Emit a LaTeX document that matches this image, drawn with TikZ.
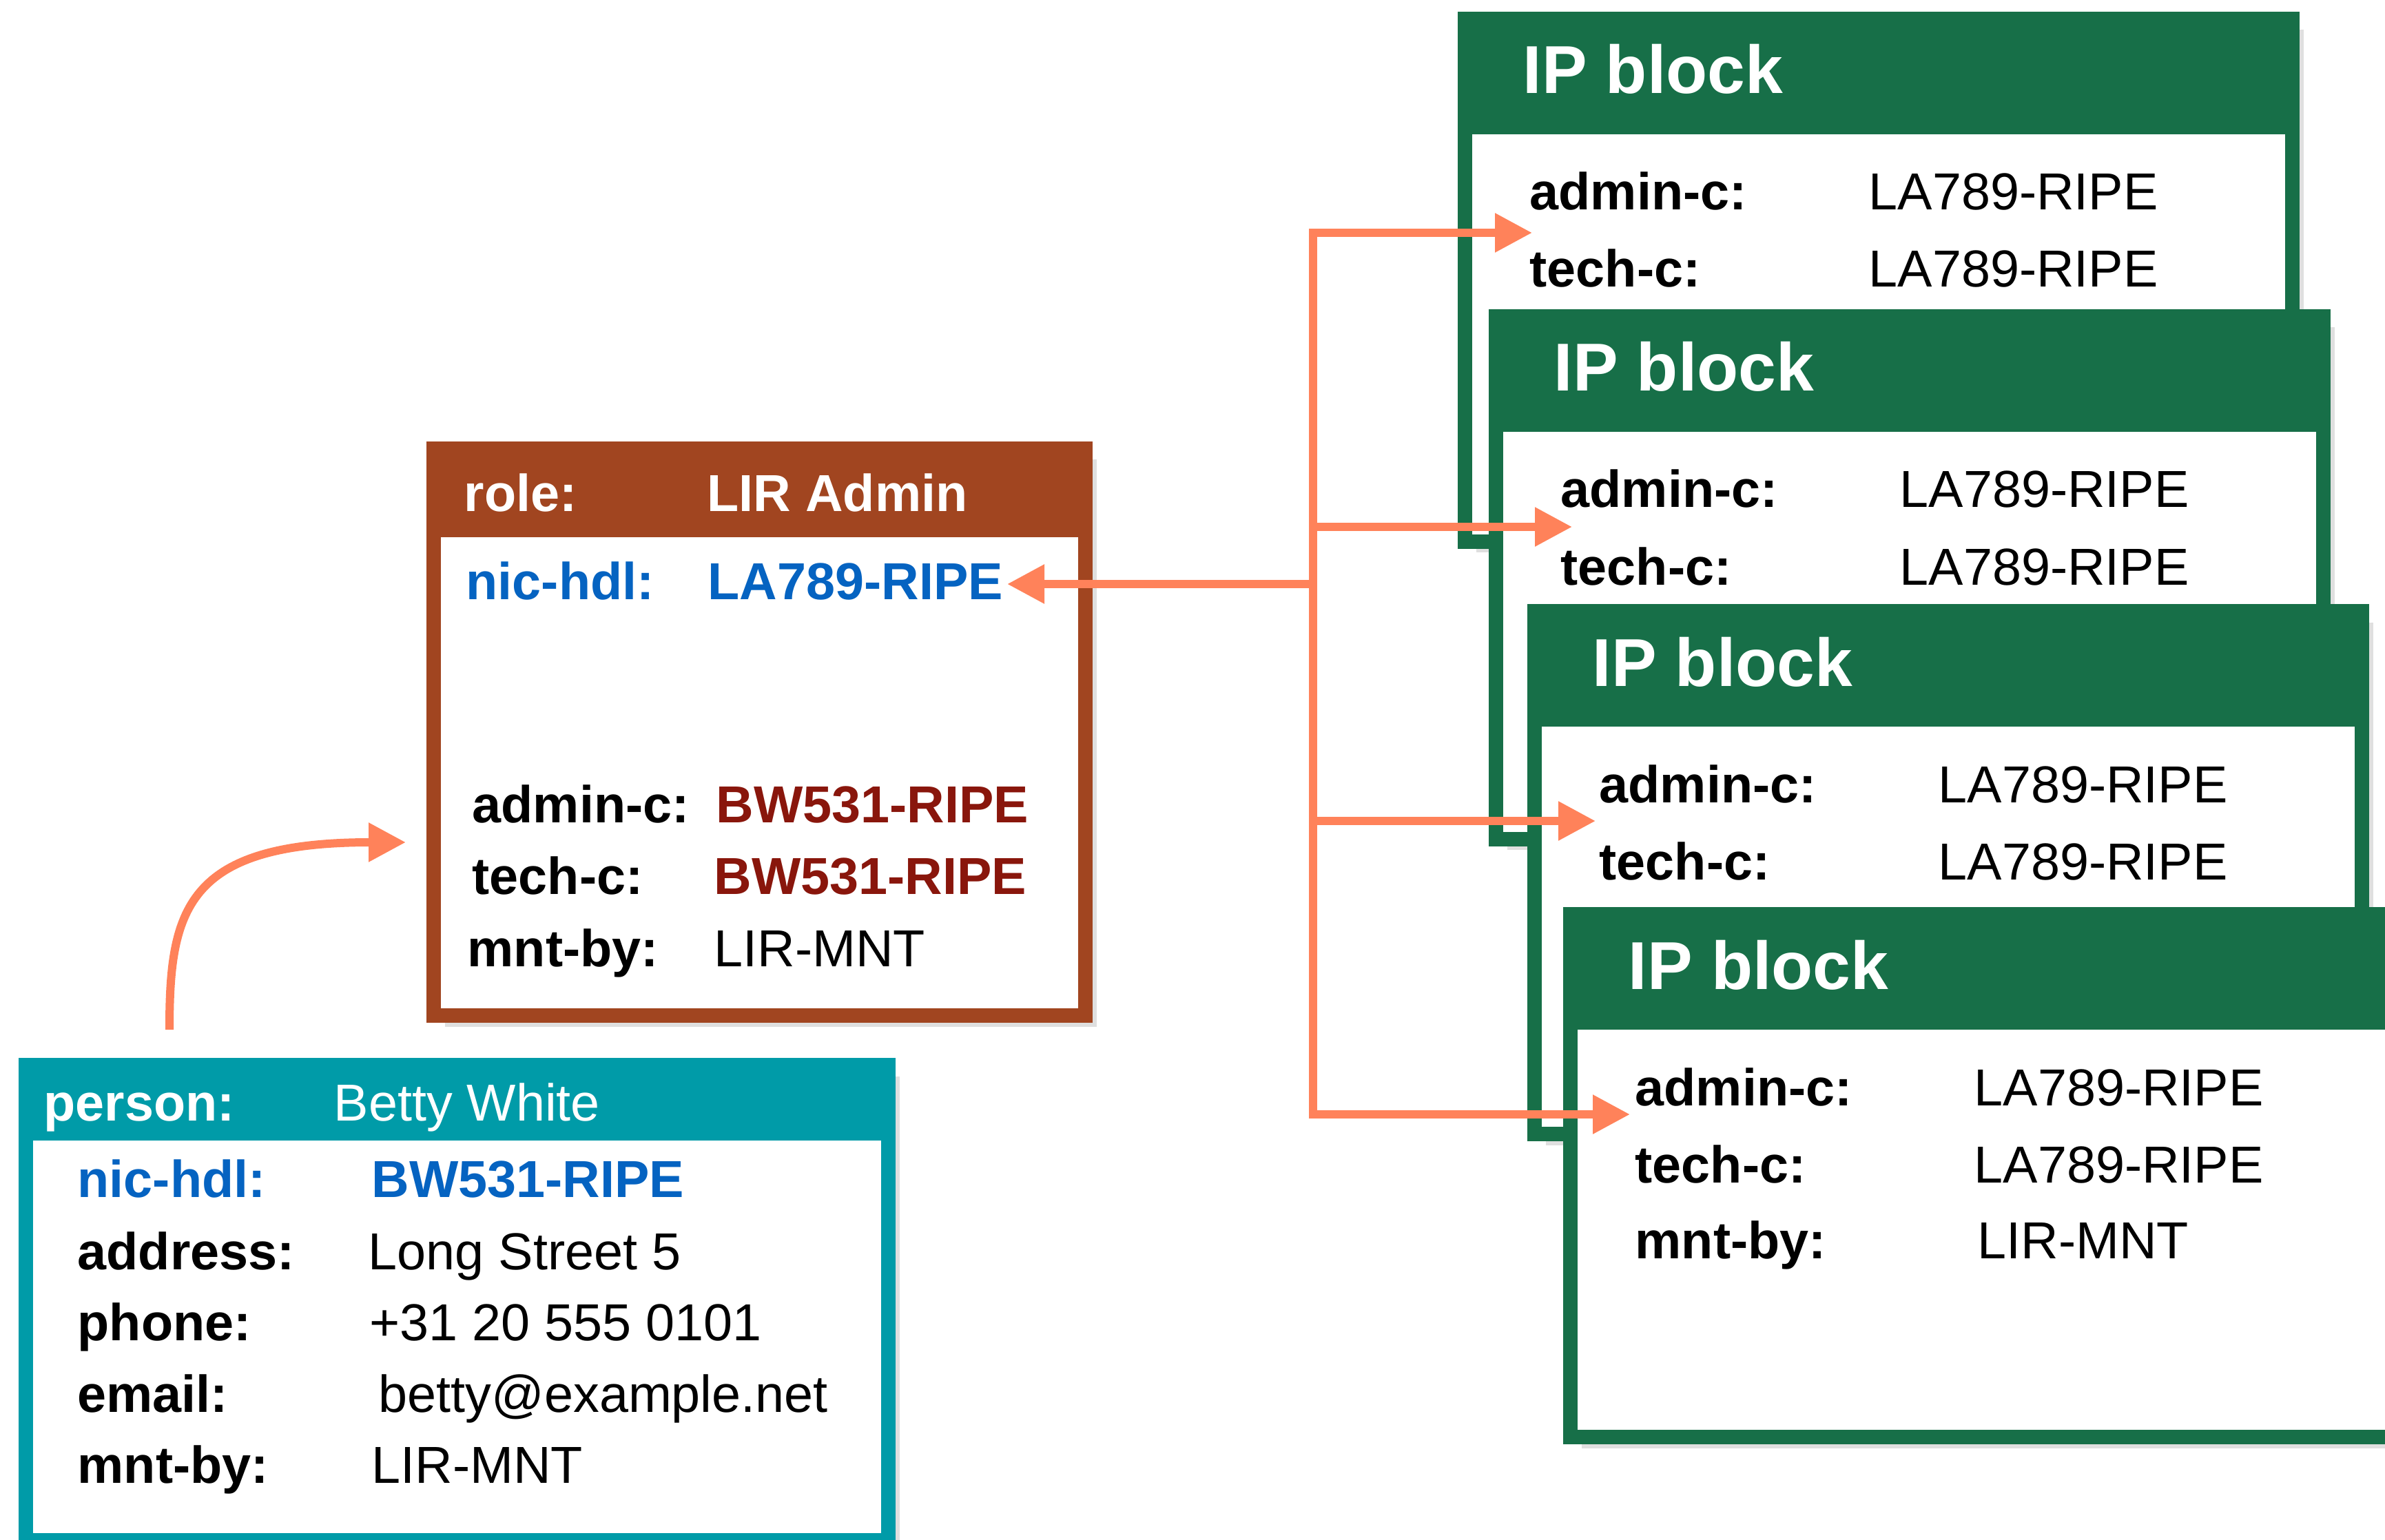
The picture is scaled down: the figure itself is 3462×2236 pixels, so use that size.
\documentclass[tikz,border=0pt]{standalone}
\usepackage{fontspec}
\setmainfont{Liberation Sans}
\usetikzlibrary{arrows.meta,shadows}

\definecolor{rolebrown}{RGB}{161,69,32}
\definecolor{personteal}{RGB}{0,155,168}
\definecolor{ipgreen}{RGB}{23,111,72}
\definecolor{linkorange}{RGB}{255,130,90}
\definecolor{hdlblue}{RGB}{5,99,193}
\definecolor{refred}{RGB}{137,22,12}

\tikzset{
  card/.style n args={4}{rectangle, anchor=north west, inner sep=0, outer sep=1.05mm,
    draw=#1, fill=white, line width=2.1mm, minimum width=#2, minimum height=#3,
    drop shadow={shadow xshift=1.6mm, shadow yshift=-1.6mm, opacity=.25},
    path picture={\fill[#1] (path picture bounding box.north west)
      rectangle ([yshift=-#4]path picture bounding box.north east);}},
  lab/.style={anchor=base west, inner sep=0, font=\fontsize{21.5}{26}\selectfont\bfseries},
  val/.style={anchor=base west, inner sep=0, font=\fontsize{21.5}{26}\selectfont},
  blocktitle/.style={anchor=base west, inner sep=0, text=white, font=\fontsize{28}{34}\selectfont\bfseries},
  link/.style={draw=linkorange, line width=1.2mm},
  refarrow/.style={link, -{Triangle[length=5.4mm,width=5.4mm]}},
}

\begin{document}
\begin{tikzpicture}[x=0.1mm,y=-0.1mm]
\useasboundingbox (0,0) rectangle (3462,2236);

% ip blocks, stacked
\foreach \i/\x/\y in {1/2116/17, 2/2161/449, 3/2217/877, 4/2269/1317} {
  \node[card={ipgreen}{120.1mm}{75.9mm}{16.75mm}] (ip\i) at (\x,\y) {};
  \node[blocktitle] (ip\i-title) at (\x+94,\y+119) {IP block};
  \node[lab] (ip\i-adm) at (\x+104,\y+288) {admin-c:};
  \node[val] (ip\i-admv) at (\x+596,\y+288) {LA789-RIPE};
  \node[lab] (ip\i-tech) at (\x+104,\y+400) {tech-c:};
  \node[val] (ip\i-techv) at (\x+596,\y+400) {LA789-RIPE};
}
\node[lab] (ip4-mnt) at (2373,1827) {mnt-by:};
\node[val] (ip4-mntv) at (2870,1827) {LIR-MNT};

% role object
\node[card={rolebrown}{94.6mm}{82.3mm}{12.85mm}] (role) at (619,641) {};
\node[lab,text=white] (rrole) at (673,742) {role:};
\node[lab,text=white] (rrolev) at (1026,742) {LIR Admin};
\node[lab,text=hdlblue] (rnic) at (676,871) {nic-hdl:};
\node[lab,text=hdlblue] (rnicv) at (1027,871) {LA789-RIPE};
\node[lab] (radm) at (685,1194) {admin-c:};
\node[lab,text=refred] (radmv) at (1039,1194) {BW531-RIPE};
\node[lab] (rtech) at (685,1298) {tech-c:};
\node[lab,text=refred] (rtechv) at (1036,1298) {BW531-RIPE};
\node[lab] (rmnt) at (678,1403) {mnt-by:};
\node[val] (rmntv) at (1036,1403) {LIR-MNT};

% person object
\node[card={personteal}{125.2mm}{69mm}{10.95mm}] (person) at (27,1536) {};
\node[lab,text=white] (pname) at (63,1627) {person:};
\node[val,text=white] (pnamev) at (484,1627) {Betty White};
\node[lab,text=hdlblue] (pnic) at (112,1738) {nic-hdl:};
\node[lab,text=hdlblue] (pnicv) at (539,1738) {BW531-RIPE};
\node[lab] (padr) at (112,1843) {address:};
\node[val] (padrv) at (534,1843) {Long Street 5};
\node[lab] (pph) at (112,1946) {phone:};
\node[val] (pphv) at (536,1946) {+31 20 555 0101};
\node[lab] (pmail) at (112,2050) {email:};
\node[val] (pmailv) at (549,2050) {betty@example.net};
\node[lab] (pmnt) at (112,2153) {mnt-by:};
\node[val] (pmntv) at (539,2153) {LIR-MNT};

% references
\coordinate (hubtop) at (1906,338);
\coordinate (hubmid) at (1906,848);
\coordinate (hubbot) at (1906,1618);
\coordinate (rtip) at (1462,848);
\coordinate (tip1) at (2224,338);
\coordinate (tip2) at (2282,765);
\coordinate (tip3) at (2316,1192);
\coordinate (tip4) at (2366,1618);
\coordinate (cstart) at (246,1495);
\coordinate (ctip) at (589,1223);

\draw[link,line cap=rect] (hubtop) -- (hubbot);
\draw[refarrow] (hubmid) -- (rtip);
\draw[refarrow] (hubtop) -- (tip1);
\draw[refarrow] (hubtop |- tip2) -- (tip2);
\draw[refarrow] (hubtop |- tip3) -- (tip3);
\draw[refarrow] (hubbot) -- (tip4);
\draw[refarrow] (cstart) .. controls +(0,-172) and +(-321,0) .. (ctip);
\end{tikzpicture}
\end{document}
